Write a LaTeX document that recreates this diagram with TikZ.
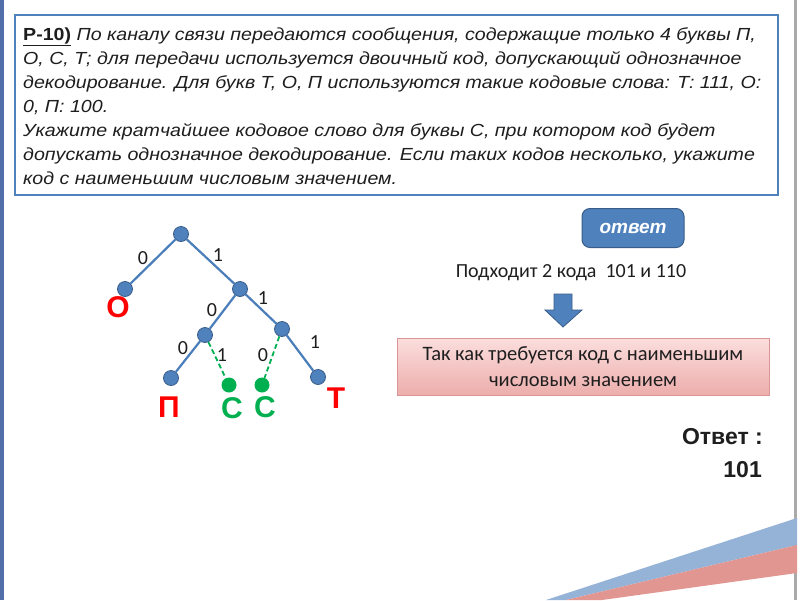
\documentclass[tikz,border=0pt]{standalone}
\usepackage{fontspec}
\setmainfont{Carlito}
\newfontfamily\arialf{Liberation Sans}
\newfontfamily\qfont[FakeStretch=1.12]{Liberation Sans}
\definecolor{nodeblue}{RGB}{79,129,189}
\definecolor{nodeborder}{RGB}{56,93,138}
\definecolor{edgeblue}{RGB}{74,126,187}
\definecolor{cgreen}{RGB}{0,176,80}
\definecolor{lred}{RGB}{255,0,0}
\definecolor{stripeblue}{RGB}{149,179,215}
\definecolor{stripered}{RGB}{226,150,146}
\definecolor{pinktop}{RGB}{251,222,221}
\definecolor{pinkbot}{RGB}{236,174,172}
\definecolor{pinkborder}{RGB}{217,150,148}
\definecolor{framegray}{RGB}{170,170,170}
\definecolor{leftblue}{RGB}{79,110,170}
\definecolor{txtgray}{RGB}{30,30,30}
\tikzset{
  tnode/.style={circle, fill=nodeblue, draw=nodeborder, line width=0.8pt, minimum size=15pt, inner sep=0pt},
  gnode/.style={circle, fill=cgreen, minimum size=15pt, inner sep=0pt},
  tedge/.style={draw=edgeblue, line width=2.2pt},
  gedge/.style={draw=cgreen, line width=1.8pt, dash pattern=on 5pt off 3pt},
  elabel/.style={font=\fontsize{20}{20}\selectfont, text=txtgray, inner sep=0pt},
  letterred/.style={font=\arialf\bfseries\fontsize{30}{30}\selectfont, text=lred, inner sep=0pt},
  lettergreen/.style={font=\arialf\bfseries\fontsize{30}{30}\selectfont, text=cgreen, inner sep=0pt},
  qline/.style={anchor=base west, inner sep=0pt, font=\qfont\fontsize{17.5}{24}\selectfont\itshape, text=txtgray},
}
\begin{document}
\begin{tikzpicture}[x=1pt,y=-1pt]
\useasboundingbox (0,0) rectangle (800,600);
\fill[white] (0,0) rectangle (800,600);
% slide edges
\fill[leftblue] (0,0) rectangle (4,600);
\fill[framegray] (794,0) rectangle (797,600);
% stripes
\fill[stripeblue] (546,600) -- (797,518) -- (797,545) -- (566,600) -- cycle;
\fill[stripered] (566,600) -- (797,545) -- (797,573) -- (602,600) -- cycle;
% question box
\draw[nodeblue, line width=1.5pt, fill=white] (15,15) rectangle (778,195);
\node[qline] (q1) at (23,40.5) {\upshape\bfseries\underline{Р-10)}\mdseries\itshape\ По каналу связи передаются сообщения, содержащие только 4 буквы П,};
\node[qline] (q2) at (23,64) {О, С, Т; для передачи используется двоичный код, допускающий однозначное};
\node[qline] (q3) at (23,88) {декодирование. Для букв Т, О, П используются такие кодовые слова: Т: 111, О:};
\node[qline] (q4) at (23,112) {0, П: 100.};
\node[qline] (q5) at (23,136.5) {Укажите кратчайшее кодовое слово для буквы С, при котором код будет};
\node[qline] (q6) at (23,160) {допускать однозначное декодирование. Если таких кодов несколько, укажите};
\node[qline] (q7) at (23,184) {код с наименьшим числовым значением.};
% tree
\node[tnode] (r) at (181,234) {};
\node[tnode] (o) at (125,289) {};
\node[tnode] (n1) at (240,289) {};
\node[tnode] (n10) at (205,335) {};
\node[tnode] (n11) at (282,329) {};
\node[tnode] (p) at (171,378) {};
\node[gnode] (c1) at (229,385) {};
\node[gnode] (c2) at (262,385) {};
\node[tnode] (t) at (318,377) {};
\path[tedge] (r) -- (o);
\path[tedge] (r) -- (n1);
\path[tedge] (n1) -- (n10);
\path[tedge] (n1) -- (n11);
\path[tedge] (n10) -- (p);
\path[tedge] (n11) -- (t);
\path[gedge] (n10) -- (c1);
\path[gedge] (n11) -- (c2);
% edge labels
\node[elabel] (l1) at (143,258) {0};
\node[elabel] (l2) at (218,255) {1};
\node[elabel] (l3) at (263,298) {1};
\node[elabel] (l4) at (212,310) {0};
\node[elabel] (l5) at (183,348) {0};
\node[elabel] (l6) at (222,355) {1};
\node[elabel] (l7) at (263,355) {0};
\node[elabel] (l8) at (315,342) {1};
% letters
\node[letterred] (lo) at (118,307) {О};
\node[letterred] (lp) at (169,407) {П};
\node[lettergreen] (lc1) at (232,408) {С};
\node[lettergreen] (lc2) at (265,407) {С};
\node[letterred] (lt) at (336,398) {Т};
% answer button
\node[draw=nodeborder, line width=1pt, fill=nodeblue, rounded corners=8pt, minimum width=102pt, minimum height=39pt, inner sep=0pt, text=white, font=\arialf\bfseries\itshape\fontsize{19}{19}\selectfont] (btn) at (633,228) {ответ};
\node[inner sep=0pt, font=\fontsize{20}{20}\selectfont, text=txtgray] (fits) at (571,273) {Подходит 2 кода\ \ 101 и 110};
% down arrow
\filldraw[fill=nodeblue, draw=nodeborder, line width=0.8pt] (554,294) -- (572,294) -- (572,310) -- (582,310) -- (563,327) -- (545,310) -- (554,310) -- cycle;
% pink box
\node[draw=pinkborder, line width=1pt, top color=pinktop, bottom color=pinkbot, minimum width=372pt, minimum height=57pt, inner sep=0pt, align=center, font=\fontsize{20.5}{26}\selectfont, text=txtgray] (why) at (583,366.5) {Так как требуется код с наименьшим\\числовым значением};
% answer
\node[anchor=east, inner sep=0pt, font=\arialf\bfseries\fontsize{23}{23}\selectfont, text=txtgray] (ans1) at (763,437) {Ответ :};
\node[anchor=east, inner sep=0pt, font=\arialf\bfseries\fontsize{23}{23}\selectfont, text=txtgray] (ans2) at (762,470) {101};
\end{tikzpicture}
\end{document}
